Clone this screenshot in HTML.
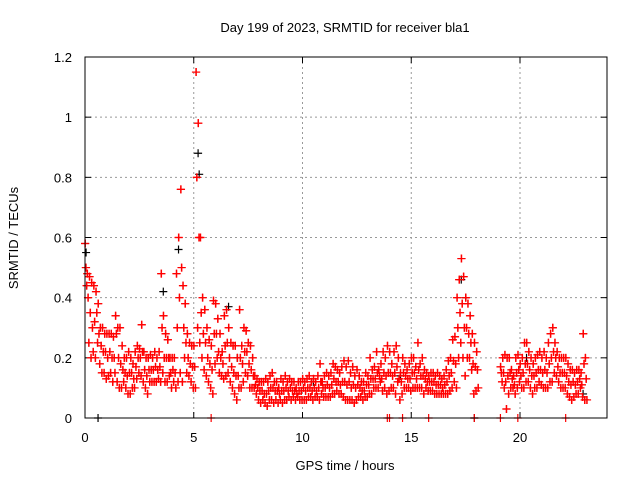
<!DOCTYPE html>
<html><head><meta charset="utf-8"><style>
body{margin:0;background:#fff}
svg{display:block;font-family:"Liberation Sans",sans-serif}
</style></head><body>
<svg id="chart" width="640" height="480" viewBox="0 0 640 480">
<text x="345" y="32" font-size="13" text-anchor="middle">Day 199 of 2023, SRMTID for receiver bla1</text>
<text x="345" y="470" font-size="13" text-anchor="middle">GPS time / hours</text>
<text x="18" y="238" font-size="13" text-anchor="middle" transform="rotate(-90 18 238)">SRMTID / TECUs</text>
<g id="grid"></g><g id="ticks"></g><g id="marks"></g>
<rect x="85" y="57" width="522" height="361" fill="none" stroke="#000" stroke-width="1"/>
</svg>
<script>
const upperVals=[.58,.48,.47,.45,.44,.42, .38,.3,.3,.28,.28,
.28,.28,.27,.34,.3,.3,.24,.2,.2,.22,
.2,.18,.22,.24,.23,.31,.22,.2,.2,.21,
.2,.22,.2,.22,.48,.34,.28,.26,.2,.2,
.2,.48,.6,.76,.44,.38,.28,.25,.24,.24,
1.15,.98,.6,.4,.36,.3,.26,.24,.39,.38,
.33,.28,.22,.34,.36,.3,.25,.24,.24,.2,
.36,.24,.3,.29,.25,.24,.2,.14,.13,.12,
.12,.12,.13,.12,.14,.15,.12,.12,.1,.13,
.12,.14,.12,.13,.12,.12,.1,.12,.12,.13,
.12,.13,.14,.12,.13,.12,.14,.18,.12,.14,
.15,.14,.15,.18,.17,.16,.15,.17,.19,.17,
.19,.15,.17,.14,.16,.14,.12,.12,.15,.14,
.2,.16,.17,.22,.16,.18,.22,.2,.24,.22,
.18,.22,.24,.2,.15,.2,.18,.16,.18,.2,
.2,.17,.25,.18,.2,.16,.15,.14,.15,.15,
.14,.15,.14,.13,.14,.16,.19,.2,.26,.27,
.4,.46,.53,.47,.4,.38,.34,.28,.25,.22,
null,null,null,null,null,null,null,null,null,null,
.17,.2,.21,.2,.2,.16,.14,.2,.21,.18,
.2,.25,.25,.22,.2,.18,.2,.21,.22,.2,
.22,.2,.25,.28,.3,.25,.22,.2,.2,.2,
.2,.18,.16,.16,.15,.16,.16,.15,.28,.2];
const midVals=[.5,.4,.35,.3,.32,.35, .28,.24,.22,.22,.2,
.22,.2,.2,.28,.2,.18,.16,.15,.14,.15,
.15,.13,.17,.2,.2,.22,.16,.14,.16,.16,
.16,.17,.16,.17,.3,.2,.2,.2,.15,.16,
.15,.3,.4,.5,.3,.25,.2,.18,.17,.17,
.8,.6,.35,.28,.25,.2,.18,.16,.28,.28,
.22,.2,.18,.24,.25,.2,.17,.15,.14,.14,
.2,.18,.22,.22,.18,.16,.14,.11,.1,.09,
.09,.08,.08,.09,.1,.1,.09,.09,.08,.09,
.09,.1,.09,.1,.09,.09,.08,.09,.09,.1,
.09,.1,.1,.09,.1,.09,.1,.12,.1,.1,
.11,.1,.11,.13,.12,.12,.11,.12,.12,.11,
.12,.1,.11,.1,.11,.1,.09,.09,.11,.11,
.13,.13,.13,.15,.14,.13,.15,.14,.15,.15,
.14,.15,.17,.13,.12,.15,.14,.13,.13,.15,
.15,.13,.16,.14,.14,.13,.12,.12,.12,.12,
.11,.11,.11,.1,.11,.12,.14,.15,.19,.18,
.3,.35,.38,.3,.3,.28,.25,.18,.17,.16,
null,null,null,null,null,null,null,null,null,null,
.15,.15,.12,.14,.15,.13,.11,.15,.16,.14,
.15,.18,.18,.16,.14,.14,.15,.16,.16,.15,
.16,.15,.18,.2,.22,.2,.17,.15,.15,.15,
.14,.12,.11,.12,.11,.12,.13,.11,.18,.13];
const lowerVals=[.44,.25,.2,.22,.2,.25, .18,.15,.15,.13,.14,
.15,.12,.15,.12,.1,.1,.12,.1,.08,.08,
.1,.1,.13,.15,.14,.12,.1,.08,.12,.12,
.12,.12,.13,.12,.15,.12,.12,.14,.1,.12,
.1,.12,.15,.12,.2,.15,.14,.12,.1,.1,
.3,.25,.2,.16,.14,.12,.1,.08,.18,.2,
.15,.14,.13,.14,.15,.12,.1,.08,.06,.1,
.1,.12,.15,.14,.1,.1,.1,.08,.06,.05,
.06,.05,.04,.06,.06,.05,.06,.05,.06,.05,
.06,.06,.07,.06,.07,.06,.07,.06,.06,.06,
.06,.07,.07,.06,.07,.07,.06,.08,.07,.07,
.07,.07,.08,.08,.09,.08,.08,.07,.06,.06,
.06,.06,.05,.06,.07,.07,.06,.07,.07,.08,
.08,.1,.1,.1,.12,.09,.1,.08,.09,.1,
.1,.08,.12,.06,.08,.1,.1,.1,.09,.1,
.1,.1,.1,.1,.08,.1,.09,.09,.09,.08,
.08,.08,.08,.08,.08,.08,.09,.1,.12,.1,
.2,.25,.2,.14,.2,.2,.16,.08,.09,.1,
null,null,null,null,null,null,null,null,null,null,
.12,.1,.03,.08,.1,.1,.08,.1,.12,.1,
.1,.12,.12,.1,.08,.1,.1,.12,.11,.1,
.1,.1,.12,.12,.15,.14,.12,.1,.1,.1,
.08,.07,.06,.07,.08,.08,.1,.07,.06,.06];
const blackTimes=[0.05,0.6,3.6,4.3,5.2,5.25,6.6,7.0,10.5,14.5,17.3,17.5,17.9,20.3,22.9];
const blackVals=[0.55,0,0.42,0.56,0.88,0.81,0.37,0.2,0.12,0.14,0.46,0.4,0,0.2,0.08];
const zeroTimes=[5.8,13.9,14.0,14.6,15.8,17.9,19.1,19.9,22.1];
const xTicks=[0,5,10,15,20];
const yTicks=[0,0.2,0.4,0.6,0.8,1,1.2];
const X=t=>85+t*(522/24), Y=v=>418-v*(361/1.2);
const NS="http://www.w3.org/2000/svg";
function mk(tag,attrs,parent){const e=document.createElementNS(NS,tag);for(const k in attrs)e.setAttribute(k,attrs[k]);parent.appendChild(e);return e;}
const grid=document.getElementById('grid'),ticks=document.getElementById('ticks'),marks=document.getElementById('marks');
xTicks.forEach(t=>{const x=X(t);
 if(t>0){const g=mk('line',{x1:x,y1:57,x2:x,y2:418,stroke:'#999','stroke-dasharray':'2,3'},grid);
 
 }
 const tx=mk('text',{x:x,y:442,'font-size':13,'text-anchor':'middle'},ticks);tx.textContent=t;
 
 
 mk('line',{x1:x,y1:418,x2:x,y2:412,stroke:'#000'},ticks);mk('line',{x1:x,y1:57,x2:x,y2:63,stroke:'#000'},ticks);});
yTicks.forEach(v=>{const y=Y(v);
 if(v>0&&v<1.2){const g=mk('line',{x1:85,y1:y,x2:607,y2:y,stroke:'#999','stroke-dasharray':'2,3'},grid);
 
 }
 const tx=mk('text',{x:72,y:y+5,'font-size':13,'text-anchor':'end'},ticks);tx.textContent=String(v);
 
 
 mk('line',{x1:85,y1:y,x2:91,y2:y,stroke:'#000'},ticks);mk('line',{x1:607,y1:y,x2:601,y2:y,stroke:'#000'},ticks);});
function plus(t,v,col,name){const x=X(t),y=Y(v);
 const p=mk('path',{d:`M${x-4} ${y}h8M${x} ${y-4}v8`,stroke:col,'stroke-width':1.2,fill:'none'},marks);
 
 }
blackTimes.forEach((t,i)=>plus(t,blackVals[i],'#000','black-point'));
[[upperVals,0],[midVals,0.035],[lowerVals,0.07]].forEach(([arr,off])=>{
 arr.forEach((v,i)=>{if(v!==null){plus(i*0.1+off,v,'#f00','red-point');plus(i*0.1+off+0.015,v,'#f00','red-point');}});});
zeroTimes.forEach(t=>plus(t,0,'#f00','red-zero-point'));
</script>
</body></html>
